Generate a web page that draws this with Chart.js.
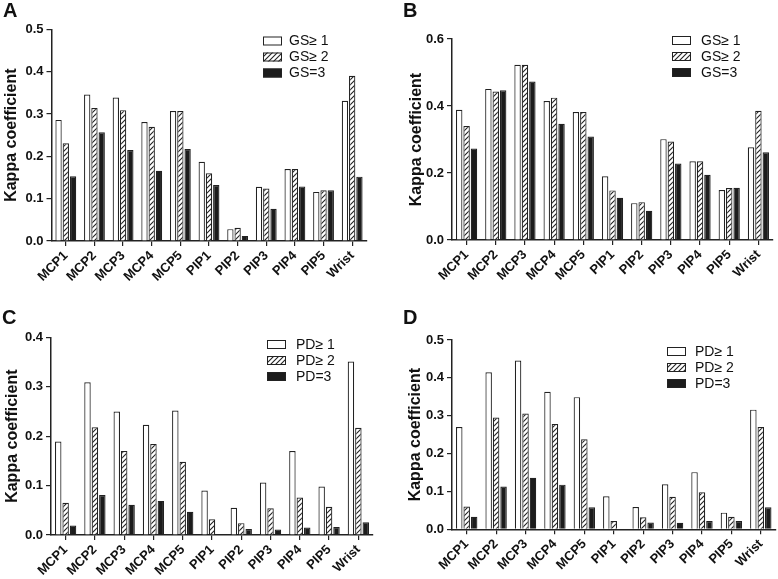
<!DOCTYPE html>
<html>
<head>
<meta charset="utf-8">
<script src="https://cdn.jsdelivr.net/npm/chart.js@4"></script>
<style>
  body { margin: 0; background: #fff; }
  #page { position: relative; width: 778px; height: 579px; overflow: hidden; }
  .panel { position: absolute; }
  .tag { position: absolute; font: bold 20px 'Liberation Sans', Arial, sans-serif; line-height: 20px; color: #111; }
</style>
</head>
<body>
<div id="page">
  <div class="panel" style="left:0;top:0"><canvas id="chartA" width="390" height="290"></canvas></div>
  <div class="panel" style="left:390px;top:0"><canvas id="chartB" width="388" height="290"></canvas></div>
  <div class="panel" style="left:0;top:290px"><canvas id="chartC" width="390" height="289"></canvas></div>
  <div class="panel" style="left:390px;top:290px"><canvas id="chartD" width="388" height="289"></canvas></div>
  <div class="tag" style="left:3px;top:0">A</div>
  <div class="tag" style="left:403px;top:0">B</div>
  <div class="tag" style="left:2px;top:307px">C</div>
  <div class="tag" style="left:403px;top:307px">D</div>
</div>
<script>
/*
 * Data
 */
const joints = ['MCP1', 'MCP2', 'MCP3', 'MCP4', 'MCP5', 'PIP1', 'PIP2', 'PIP3', 'PIP4', 'PIP5', 'Wrist'];
const gsNames = ['GS\u2265 1', 'GS\u2265 2', 'GS=3'];
const pdNames = ['PD\u2265 1', 'PD\u2265 2', 'PD=3'];

// panel A
const aGs1 = [0.286, 0.346, 0.339, 0.281, 0.307, 0.187, 0.028, 0.128, 0.170, 0.116, 0.331];
const aGs2 = [0.231, 0.314, 0.309, 0.270, 0.307, 0.160, 0.031, 0.124, 0.170, 0.120, 0.390];
const aGs3 = [0.153, 0.257, 0.215, 0.166, 0.217, 0.132, 0.012, 0.076, 0.129, 0.120, 0.152];
// panel B
const bGs1 = [0.389, 0.451, 0.523, 0.415, 0.382, 0.190, 0.110, 0.301, 0.235, 0.149, 0.277];
const bGs2 = [0.340, 0.443, 0.523, 0.425, 0.382, 0.148, 0.113, 0.294, 0.235, 0.155, 0.386];
const bGs3 = [0.273, 0.447, 0.473, 0.347, 0.309, 0.126, 0.087, 0.228, 0.195, 0.156, 0.262];
// panel C
const cPd1 = [0.189, 0.309, 0.250, 0.223, 0.252, 0.090, 0.055, 0.106, 0.170, 0.098, 0.351];
const cPd2 = [0.065, 0.218, 0.170, 0.184, 0.148, 0.032, 0.024, 0.054, 0.076, 0.057, 0.217];
const cPd3 = [0.019, 0.081, 0.061, 0.069, 0.047, 0, 0.012, 0.011, 0.015, 0.016, 0.026];
// panel D
const dPd1 = [0.270, 0.415, 0.446, 0.363, 0.349, 0.087, 0.059, 0.119, 0.151, 0.044, 0.316];
const dPd2 = [0.060, 0.295, 0.306, 0.278, 0.238, 0.022, 0.032, 0.086, 0.098, 0.033, 0.270];
const dPd3 = [0.033, 0.113, 0.136, 0.118, 0.058, 0, 0.018, 0.017, 0.022, 0.022, 0.058];

Chart.defaults.font.family = "'Liberation Sans', Arial, sans-serif";
Chart.defaults.color = '#111';

// diagonal hatch for the middle series
function makeHatch() {
  const c = document.createElement('canvas');
  c.width = 5; c.height = 5;
  const g = c.getContext('2d');
  g.fillStyle = '#fff';
  g.fillRect(0, 0, 5, 5);
  g.strokeStyle = '#222';
  g.lineWidth = 1.1;
  g.beginPath();
  g.moveTo(0, 5); g.lineTo(5, 0);
  g.moveTo(-1, 1); g.lineTo(1, -1);
  g.moveTo(4, 6); g.lineTo(6, 4);
  g.stroke();
  return g.createPattern(c, 'repeat');
}
const fills = ['#ffffff', makeHatch(), '#1c1c1c'];

// legend drawn inside the plot, boxes stacked on the right
const boxLegend = {
  id: 'boxLegend',
  afterDraw(chart, args, opts) {
    const ctx = chart.ctx;
    ctx.save();
    ctx.font = "14px 'Liberation Sans', Arial, sans-serif";
    ctx.textBaseline = 'middle';
    chart.data.datasets.forEach((ds, i) => {
      const y = opts.y + i * opts.step;
      ctx.fillStyle = ds.backgroundColor;
      ctx.fillRect(opts.x, y, 19, 9);
      ctx.strokeStyle = '#222';
      ctx.lineWidth = 1;
      ctx.strokeRect(opts.x + 0.5, y + 0.5, 18, 8);
      ctx.fillStyle = '#111';
      ctx.fillText(ds.label, opts.textX, y + 5);
    });
    ctx.restore();
  }
};

function drawPanel(id, names, series, yMax, yStep, lay) {
  new Chart(document.getElementById(id), {
    type: 'bar',
    data: {
      labels: joints,
      datasets: series.map((vals, i) => ({
        label: names[i],
        data: vals,
        backgroundColor: fills[i],
        borderColor: '#222',
        borderWidth: 1.2,
        barPercentage: 0.87,
        categoryPercentage: 0.76
      }))
    },
    options: {
      responsive: false,
      animation: false,
      layout: { padding: { top: lay.top, right: lay.right, left: 0, bottom: 0 } },
      plugins: {
        legend: { display: false },
        tooltip: { enabled: false },
        boxLegend: lay.legend
      },
      scales: {
        x: {
          grid: { offset: false, drawOnChartArea: false, tickLength: 5, color: '#222', lineWidth: 1.2 },
          border: { color: '#222', width: 1.5 },
          ticks: { autoSkip: false, minRotation: 45, maxRotation: 45, padding: 2, font: { size: 13, weight: 'bold' } },
          afterFit: s => { s.height = lay.xh; }
        },
        y: {
          min: 0,
          max: yMax,
          grid: { drawOnChartArea: false, tickLength: 5, color: '#222', lineWidth: 1.2 },
          border: { color: '#222', width: 1.5 },
          ticks: { stepSize: yStep, padding: 3, font: { size: 13, weight: 'bold' }, callback: v => v.toFixed(1) },
          title: { display: true, text: 'Kappa coefficient', font: { size: 16, weight: 'bold' }, padding: { top: lay.tp, bottom: 0 } },
          afterFit: s => { s.width = lay.yw; }
        }
      }
    },
    plugins: [boxLegend]
  });
}

drawPanel('chartA', gsNames, [aGs1, aGs2, aGs3], 0.5, 0.1,
  { top: 29.3, right: 23.5, xh: 49, yw: 51.5, tp: 2.4, legend: { x: 263, y: 36.5, step: 16, textX: 289 } });
drawPanel('chartB', gsNames, [bGs1, bGs2, bGs3], 0.6, 0.2,
  { top: 39, right: 5, xh: 50, yw: 62, tp: 17.4, legend: { x: 282, y: 36, step: 16, textX: 311 } });
drawPanel('chartC', pdNames, [cPd1, cPd2, cPd3], 0.4, 0.1,
  { top: 47.3, right: 17, xh: 44, yw: 51, tp: 3.4, legend: { x: 267, y: 50, step: 16, textX: 296 } });
drawPanel('chartD', pdNames, [dPd1, dPd2, dPd3], 0.5, 0.1,
  { top: 50, right: 2.5, xh: 49.7, yw: 62, tp: 16.4, legend: { x: 277, y: 57, step: 16, textX: 305 } });
</script>
</body>
</html>
